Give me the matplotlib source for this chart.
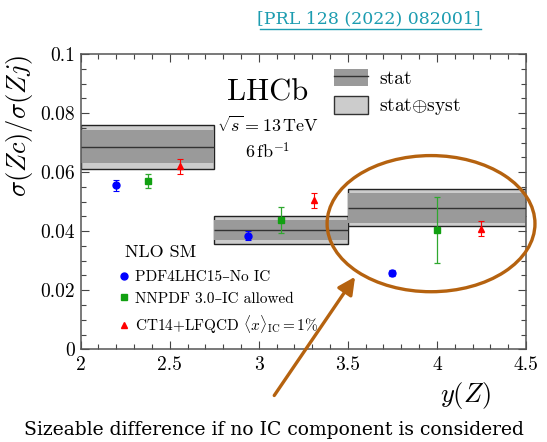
import matplotlib
matplotlib.use("Agg")
import matplotlib.pyplot as plt
from matplotlib.patches import Patch, Ellipse, FancyArrowPatch
from matplotlib.lines import Line2D
from matplotlib.legend_handler import HandlerTuple
from matplotlib.ticker import MultipleLocator

plt.rcParams['mathtext.fontset'] = 'cm'
plt.rcParams['font.family'] = ['cmr10', 'DejaVu Serif']
plt.rcParams['axes.formatter.use_mathtext'] = True

# measured ratio in y(Z) bins
bin_lo = [2.0, 2.75, 3.5]
bin_hi = [2.75, 3.5, 4.5]
ratio = [0.0686, 0.0403, 0.0480]
err_stat = [0.0056, 0.0034, 0.0051]
err_tot = [0.0074, 0.0047, 0.0063]

# NLO SM predictions
pdf4lhc_x = [2.2, 2.94, 3.75]
pdf4lhc_y = [0.0555, 0.0385, 0.0258]
pdf4lhc_e = [0.0020, 0.0015, 0.0010]

nnpdf_x = [2.38, 3.125, 4.0]
nnpdf_y = [0.0570, 0.0438, 0.0405]
nnpdf_e = [0.0025, 0.0044, 0.0112]

ct14_x = [2.56, 3.31, 4.25]
ct14_y = [0.0620, 0.0505, 0.0408]
ct14_e = [0.0025, 0.0025, 0.0025]

light = '#cccccc'
dark = '#9a9a9a'
brown = '#b5620f'

fig = plt.figure(figsize=(5.47, 4.42), dpi=100)
ax = fig.add_axes([0.1475, 0.2097, 0.814, 0.668])

centres = [(a + b) / 2 for a, b in zip(bin_lo, bin_hi)]
widths = [b - a for a, b in zip(bin_lo, bin_hi)]
ax.bar(centres, [2 * e for e in err_tot], width=widths,
       bottom=[r - e for r, e in zip(ratio, err_tot)],
       color=light, edgecolor='#222222', linewidth=1.0, zorder=1)
ax.bar(centres, [2 * e for e in err_stat], width=widths,
       bottom=[r - e for r, e in zip(ratio, err_stat)],
       color=dark, linewidth=0, zorder=2)
ax.hlines(ratio, bin_lo, bin_hi, color='#333333', lw=1.0, zorder=3)

ax.errorbar(pdf4lhc_x, pdf4lhc_y, yerr=pdf4lhc_e, fmt='o', color='blue',
            ms=5, elinewidth=0.8, capsize=2, capthick=0.8, zorder=5)
ax.errorbar(nnpdf_x, nnpdf_y, yerr=nnpdf_e, fmt='s', color='#11a011',
            ecolor='#2fa82f', ms=5, elinewidth=0.9, capsize=2,
            capthick=0.9, zorder=5)
ax.errorbar(ct14_x, ct14_y, yerr=ct14_e, fmt='^', color='red',
            ms=5, elinewidth=0.8, capsize=2, capthick=0.8, zorder=5)

ax.set_xlim(2, 4.5)
ax.set_ylim(0, 0.1)
ax.xaxis.set_major_locator(MultipleLocator(0.5))
ax.xaxis.set_minor_locator(MultipleLocator(0.1))
ax.yaxis.set_major_locator(MultipleLocator(0.02))
ax.yaxis.set_minor_locator(MultipleLocator(0.005))
ax.set_xticks([2, 2.5, 3, 3.5, 4, 4.5], ['2', '2.5', '3', '3.5', '4', '4.5'])
ax.set_yticks([0, 0.02, 0.04, 0.06, 0.08, 0.1],
              ['0', '0.02', '0.04', '0.06', '0.08', '0.1'])
ax.tick_params(which='both', direction='in', top=True, right=True,
               color='#444444', width=0.8, labelsize=14)
ax.tick_params(which='major', length=6)
ax.tick_params(which='minor', length=3.5)
ax.tick_params(axis='x', pad=5)
ax.tick_params(axis='y', pad=4)
for s in ax.spines.values():
    s.set_color('#555555')
    s.set_linewidth(1.1)

ax.set_xlabel(r'$y(Z)$', loc='right', fontsize=19)
ax.xaxis.set_label_coords(0.92, -0.105)
fig.text(0.036, 0.876, r'$\sigma(Zc)/\sigma(Zj)$', rotation=90,
         ha='center', va='top', fontsize=19)

ax.text(0.42, 0.87, 'LHCb', transform=ax.transAxes, ha='center',
        va='center', fontsize=22)
ax.text(0.42, 0.76, r'$\sqrt{s} = 13\,\mathrm{TeV}$', transform=ax.transAxes,
        ha='center', va='center', fontsize=13)
ax.text(0.42, 0.67, r'$6\,\mathrm{fb}^{-1}$', transform=ax.transAxes,
        ha='center', va='center', fontsize=13)

# data legend
stat_h = (Patch(facecolor=dark, edgecolor='none'),
          Line2D([], [], color='#333333', lw=1.0))
tot_h = Patch(facecolor=light, edgecolor='#333333', linewidth=1.0)
leg1 = ax.legend([stat_h, tot_h], ['stat', r'stat$\oplus$syst'],
                 handler_map={tuple: HandlerTuple(ndivide=1, pad=0)},
                 loc='upper left', bbox_to_anchor=(0.53, 1.01),
                 frameon=False, fontsize=14, handlelength=1.75,
                 handleheight=1.0, labelspacing=0.42, handletextpad=0.55)
ax.add_artist(leg1)

# theory legend
ax.text(0.10, 0.327, 'NLO SM', transform=ax.transAxes, ha='left',
        va='center', fontsize=13)
th_h = [Line2D([], [], ls='none', marker='o', color='blue', ms=5),
        Line2D([], [], ls='none', marker='s', color='#11a011', ms=5),
        Line2D([], [], ls='none', marker='^', color='red', ms=5)]
th_l = ['PDF4LHC15–No IC', 'NNPDF 3.0–IC allowed',
        r'CT14+LFQCD $\langle x\rangle_{\mathrm{IC}} = 1\%$']
ax.legend(th_h, th_l, loc='lower left', bbox_to_anchor=(0.055, 0.0),
          frameon=False, fontsize=11, handlelength=0.6, handletextpad=0.45,
          labelspacing=0.5)

# highlight and arrow
fig.add_artist(Ellipse((0.788, 0.494), 0.380, 0.308, fill=False,
                       edgecolor=brown, linewidth=2.4,
                       transform=fig.transFigure))
fig.add_artist(FancyArrowPatch((0.4985, 0.100), (0.652, 0.379),
                               arrowstyle='-|>', mutation_scale=26,
                               color=brown, linewidth=2.4,
                               transform=fig.transFigure))

fig.text(0.5, 0.028, 'Sizeable difference if no IC component is considered',
         ha='center', va='center', fontsize=13.5, family='DejaVu Serif')
fig.text(0.6745, 0.958, '[PRL 128 (2022) 082001]', ha='center', va='center',
         fontsize=12.5, family='DejaVu Serif', color='#1c9cb0')
fig.add_artist(Line2D([0.476, 0.879], [0.935, 0.935], color='#1c9cb0',
                      lw=1.0, transform=fig.transFigure))

fig.savefig('out.png', dpi=100)
